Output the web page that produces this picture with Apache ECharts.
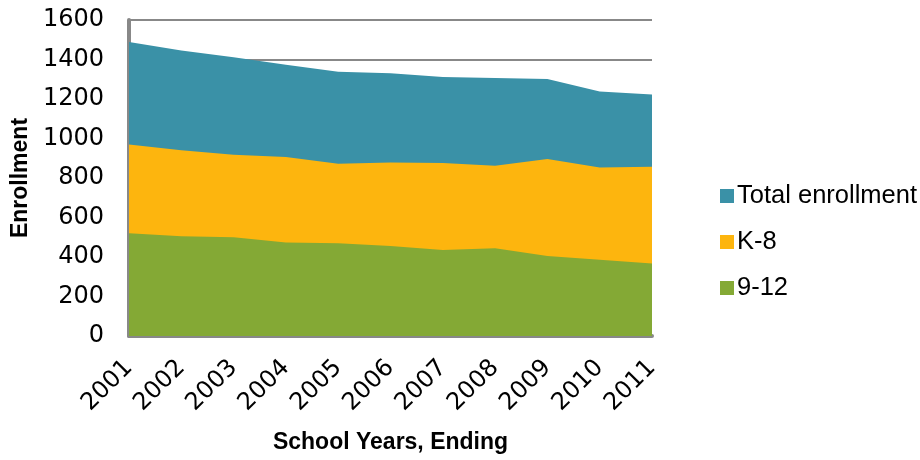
<!DOCTYPE html>
<html>
<head>
<meta charset="utf-8">
<script src="https://cdn.jsdelivr.net/npm/echarts@6/dist/echarts.min.js"></script>
<style>
  html, body { margin: 0; padding: 0; background: #fff; }
  #chart { width: 920px; height: 460px; }
</style>
</head>
<body>
<div id="chart"></div>
<script>
// School years (ending)
const years = ['2001','2002','2003','2004','2005','2006','2007','2008','2009','2010','2011'];
// Enrollment by group
const totalEnrollment = [1488, 1446, 1412, 1373, 1338, 1330, 1311, 1306, 1301, 1238, 1223];
const k8 = [970, 940, 918, 906, 872, 878, 876, 862, 896, 853, 857];
const grades912 = [520, 505, 500, 474, 470, 456, 436, 444, 405, 386, 367];
// Y axis ticks
const yTicks = [0, 200, 400, 600, 800, 1000, 1200, 1400, 1600];

const colors = { total: '#3A91A7', k8: '#FDB50E', g912: '#84A935' };
const numFont = 'DejaVu Sans';
const textFont = 'Liberation Sans';

const chart = echarts.init(document.getElementById('chart'));

function areaSeries(name, data, color) {
  return {
    name: name,
    type: 'line',
    data: data,
    symbol: 'none',
    lineStyle: { width: 0 },
    areaStyle: { color: color, opacity: 1 },
    itemStyle: { color: color },
    emphasis: { disabled: true }
  };
}

chart.setOption({
  animation: false,
  grid: { left: 129, right: 268, top: 20, bottom: 124, containLabel: false, outerBoundsMode: 'none' },
  legend: {
    orient: 'vertical',
    left: 715,
    top: 178,
    itemWidth: 14,
    itemHeight: 14,
    itemGap: 20,
    icon: 'rect',
    textStyle: { fontFamily: textFont, fontSize: 25.5, color: '#000', padding: [0, 0, 0, -2] },
    data: ['Total enrollment', 'K-8', '9-12']
  },
  xAxis: {
    type: 'category',
    data: years,
    boundaryGap: false,
    name: 'School Years, Ending',
    nameLocation: 'middle',
    nameGap: 95,
    nameTextStyle: { fontFamily: textFont, fontSize: 23, fontWeight: 'bold', color: '#000' },
    axisLine: { lineStyle: { color: '#888', width: 4 } },
    axisTick: { show: false },
    axisLabel: {
      rotate: 45,
      margin: 28,
      fontFamily: numFont,
      fontSize: 24,
      color: '#000'
    },
    splitLine: { show: false }
  },
  yAxis: {
    type: 'value',
    min: yTicks[0],
    max: yTicks[yTicks.length - 1],
    interval: 200,
    name: 'Enrollment',
    nameLocation: 'middle',
    nameGap: 96,
    nameTextStyle: { fontFamily: textFont, fontSize: 23, fontWeight: 'bold', color: '#000' },
    axisLine: { show: true, lineStyle: { color: '#888', width: 4 } },
    axisTick: { show: false },
    axisLabel: {
      margin: 25,
      fontFamily: numFont,
      fontSize: 24,
      color: '#000',
      formatter: function (v) { return String(v); }
    },
    splitLine: { show: true, lineStyle: { color: '#888', width: 2 } }
  },
  series: [
    areaSeries('Total enrollment', totalEnrollment, colors.total),
    areaSeries('K-8', k8, colors.k8),
    areaSeries('9-12', grades912, colors.g912)
  ]
});
</script>
</body>
</html>
